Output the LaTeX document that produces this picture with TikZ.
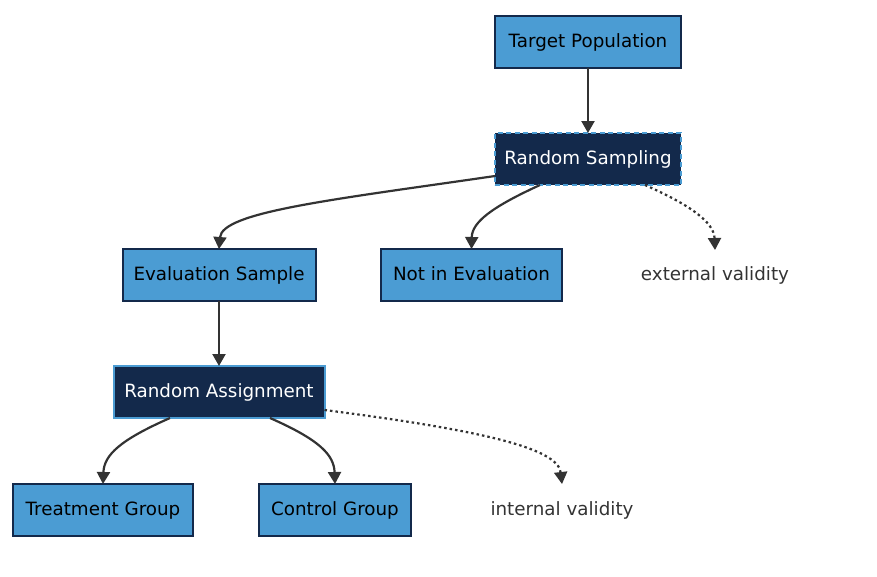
\documentclass[tikz,border=0pt]{standalone}
\usepackage{fontspec}
\setmainfont{DejaVu Sans}
\usetikzlibrary{arrows.meta}
\definecolor{lightbox}{HTML}{4B9CD3}
\definecolor{navy}{HTML}{13294B}
\definecolor{edgec}{HTML}{333333}
\begin{document}
\begin{tikzpicture}[x=1pt,y=-1pt,
  every node/.style={font=\fontsize{18.3}{21}\selectfont, inner sep=0pt, outer sep=0pt,
    text height=13.5pt, text depth=2.5pt},
  lbox/.style={draw=navy, fill=lightbox, line width=2pt, text=black, minimum height=52pt},
  dbox/.style={draw=lightbox, fill=navy, line width=2pt, text=white, minimum height=52pt},
  plain/.style={text=edgec},
  conn/.style={draw=edgec, line width=2.2pt, -{Triangle[length=12pt,width=13pt]}},
  dotconn/.style={conn, dash pattern=on 2.5pt off 3pt}
]
\useasboundingbox (0,0) rectangle (877,576);
\node[lbox, minimum width=186pt] (tp) at (588,42) {Target Population};
\node[dbox, minimum width=186pt, dash pattern=on 5pt off 3.5pt] (rs) at (588,159) {Random Sampling};
\node[lbox, minimum width=193pt] (es) at (219,275) {Evaluation Sample};
\node[lbox, minimum width=181pt] (ne) at (471.5,275) {Not in Evaluation};
\node[plain] (ext) at (715,275) {external validity};
\node[dbox, minimum width=211pt] (ra) at (219,392) {Random Assignment};
\node[lbox, minimum width=180pt] (tg) at (103,510) {Treatment Group};
\node[lbox, minimum width=152pt] (cg) at (335,510) {Control Group};
\node[plain] (int) at (562,510) {internal validity};
\coordinate (extin) at (715,250);
\coordinate (intin) at (562,484);

\draw[conn] (tp.south) -- (rs.north);
\draw[conn] (rs.west |- 0,176) .. controls (330,200) and (222,212) .. (es.north);
\draw[conn] (rs.south -| 540,0) .. controls (492,207) and (472,222) .. (ne.north);
\draw[dotconn] (rs.south -| 645,0) .. controls (690,205) and (714,222) .. (extin);
\draw[conn] (es.south) -- (ra.north);
\draw[conn] (ra.south -| 170,0) .. controls (120,440) and (104,455) .. (tg.north);
\draw[conn] (ra.south -| 270,0) .. controls (320,440) and (334,455) .. (cg.north);
\draw[dotconn] (ra.east |- 0,410) .. controls (480,430) and (558,448) .. (intin);
\end{tikzpicture}
\end{document}
